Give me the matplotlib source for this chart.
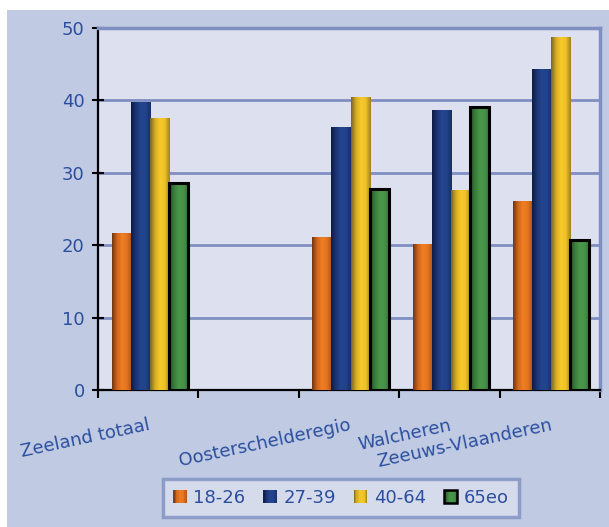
import numpy as np
import matplotlib
matplotlib.use("Agg")
import matplotlib.pyplot as plt
from matplotlib.colors import LinearSegmentedColormap
from matplotlib.patches import Rectangle
from matplotlib.legend_handler import HandlerBase

categories = ['Zeeland totaal', '', 'Oosterschelderegio', 'Walcheren', 'Zeeuws-Vlaanderen']
groups = ['18-26', '27-39', '40-64', '65eo']
v_18_26 = [21.6, np.nan, 21.0, 20.1, 26.0]
v_27_39 = [39.7, np.nan, 36.3, 38.6, 44.3]
v_40_64 = [37.5, np.nan, 40.4, 27.5, 48.7]
v_65eo = [28.6, np.nan, 27.8, 39.1, 20.7]
series = [v_18_26, v_27_39, v_40_64, v_65eo]

# gradient colours per series: dark left edge, bright middle, darker right
shades = [
    ['#6e3614', '#d0651c', '#f07e22', '#e47520', '#a85316'],
    ['#0f1b44', '#1b3574', '#24468f', '#22428a', '#182f68'],
    ['#75662a', '#d6ad24', '#f7ca2a', '#eec227', '#9e821e'],
    ['#214d27', '#3a7d3c', '#4a9848', '#46914a', '#326d37'],
]
edges = [None, None, None, 'black']
cmaps = [LinearSegmentedColormap.from_list('g%d' % i, s) for i, s in enumerate(shades)]

text_col = '#2b4f9f'
grid_col = '#7f8fc2'
outer_bg = '#c0cae2'
inner_bg = '#dce0ef'

fig = plt.figure(figsize=(6.09, 5.27), dpi=100)
fig.patch.set_facecolor('white')
fig.patches.append(Rectangle((7 / 609, 0), 1, 517 / 527, transform=fig.transFigure,
                             facecolor=outer_bg, edgecolor='none', zorder=-10))

ax = fig.add_axes([98 / 609, 137 / 527, 502 / 609, 362 / 527])
ax.set_facecolor(inner_bg)

x = np.arange(len(categories))
w = 0.19
grad = np.linspace(0, 1, 64)[np.newaxis, :]
for i, vals in enumerate(series):
    bars = ax.bar(x + (i - 1.5) * w + 0.015, vals, w, color=shades[i][2], zorder=3,
                  edgecolor='none', linewidth=0)
    for b in bars:
        h = b.get_height()
        if np.isnan(h):
            continue
        ax.imshow(grad, extent=[b.get_x(), b.get_x() + b.get_width(), 0, h],
                  cmap=cmaps[i], aspect='auto', zorder=3.5)
        if edges[i]:
            ax.add_patch(Rectangle((b.get_x(), 0), b.get_width(), h, fill=False,
                                   edgecolor=edges[i], linewidth=2.2, zorder=4))

ax.set_xlim(-0.5, len(categories) - 0.5)
ax.set_ylim(0, 50)
ax.set_yticks(np.arange(0, 51, 10))
ax.yaxis.grid(True, color=grid_col, linewidth=2, zorder=1)
ax.set_axisbelow(True)

ax.set_xticks(np.arange(-0.5, len(categories), 1))
ax.set_xticklabels([])
ax.set_xticks(x, minor=True)
ax.set_xticklabels(categories, minor=True, rotation=12, ha='right', va='top',
                   rotation_mode='anchor', color=text_col, fontsize=13)
ax.tick_params(axis='x', which='minor', length=0, pad=19)
ax.tick_params(axis='x', which='major', length=6, width=1.5, direction='out', color='black')
ax.tick_params(axis='y', length=9, width=1.5, direction='inout', color='black',
               labelcolor=text_col, labelsize=13, pad=5)

for side in ['left', 'bottom']:
    ax.spines[side].set_color('black')
    ax.spines[side].set_linewidth(1.6)
for side in ['top', 'right']:
    ax.spines[side].set_color(grid_col)
    ax.spines[side].set_linewidth(2.5)


class GradientHandler(HandlerBase):
    def __init__(self, cmap, edge):
        super().__init__()
        self.cmap = cmap
        self.edge = edge

    def create_artists(self, legend, orig_handle, xdescent, ydescent, width, height, fontsize, trans):
        n = 10
        arts = []
        for k in range(n):
            r = Rectangle((-xdescent + k * width / n, -ydescent), width / n, height,
                          facecolor=self.cmap((k + 0.5) / n), edgecolor='none', transform=trans)
            arts.append(r)
        if self.edge:
            arts.append(Rectangle((-xdescent, -ydescent), width, height, fill=False,
                                  edgecolor=self.edge, linewidth=1.8, transform=trans))
        return arts


handles = [Rectangle((0, 0), 1, 1) for _ in groups]
hmap = {h: GradientHandler(cmaps[i], edges[i]) for i, h in enumerate(handles)}
leg = fig.legend(handles, groups, handler_map=hmap, loc='center',
                 bbox_to_anchor=(341 / 609, 29 / 527), ncol=4, frameon=True,
                 fancybox=False, fontsize=13, handlelength=0.75, handleheight=0.75,
                 handletextpad=0.35, columnspacing=1.0, borderpad=0.55)
leg.get_frame().set_facecolor(inner_bg)
leg.get_frame().set_edgecolor(grid_col)
leg.get_frame().set_linewidth(2.5)
for t in leg.get_texts():
    t.set_color(text_col)

fig.savefig('out.png', dpi=100)
